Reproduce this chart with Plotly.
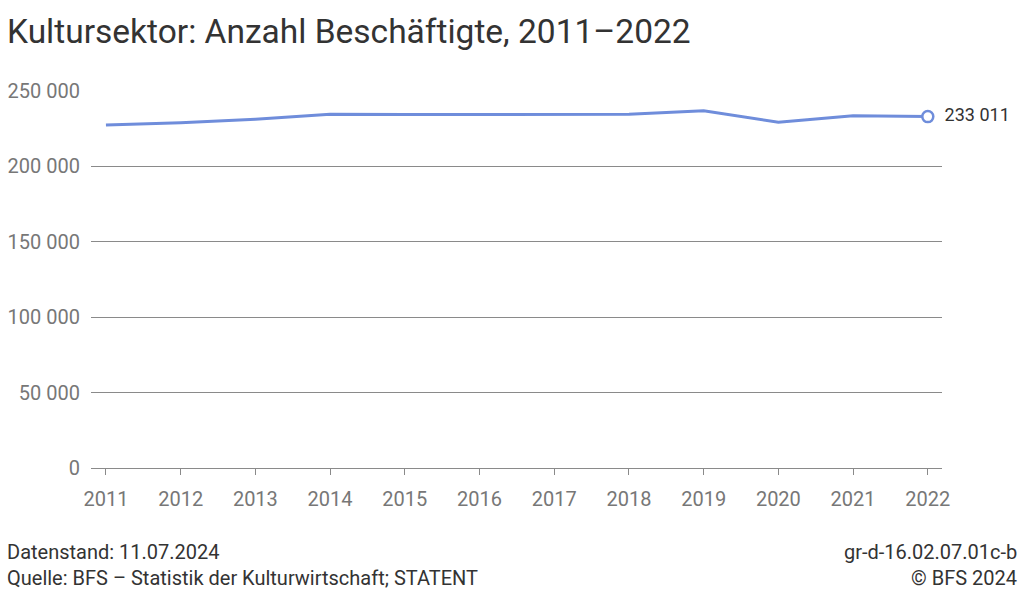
import plotly.graph_objects as go

years = [2011, 2012, 2013, 2014, 2015, 2016, 2017, 2018, 2019, 2020, 2021, 2022]
employees = [227400, 228900, 231300, 234600, 234400, 234500, 234800, 234500, 236900, 229300, 233600, 233011]
y_ticks = [0, 50000, 100000, 150000, 200000, 250000]

title = "Kultursektor: Anzahl Beschäftigte, 2011–2022"
footer_left = ["Datenstand: 11.07.2024", "Quelle: BFS – Statistik der Kulturwirtschaft; STATENT"]
footer_right = ["gr-d-16.02.07.01c-b", "© BFS 2024"]
end_label = "233 011"

line_color = "#6f8ddb"
font = "Roboto"

L, R, T, B = 91, 82, 90, 133
W, H = 1024, 601

fig = go.Figure()
fig.add_trace(go.Scatter(
    x=years, y=employees, mode="lines",
    line=dict(color=line_color, width=3),
    hoverinfo="skip", showlegend=False,
))
fig.add_trace(go.Scatter(
    x=[years[-1]], y=[employees[-1]], mode="markers+text",
    marker=dict(size=11, color="white", line=dict(color=line_color, width=2.5)),
    text=["  " + end_label], textposition="middle right",
    textfont=dict(family=font, size=18, color="#333333"),
    cliponaxis=False, hoverinfo="skip", showlegend=False,
))

fig.update_layout(
    width=W, height=601,
    margin=dict(l=L, r=R, t=T, b=B, autoexpand=False),
    paper_bgcolor="white", plot_bgcolor="white",
    separators=". ",
    font=dict(family=font, size=18, color="#777777"),
    xaxis=dict(
        range=[2010.8, 2022.19], tickmode="array", tickvals=years,
        ticktext=[str(y) for y in years], automargin=False,
        showgrid=False, zeroline=False,
        showline=True, linecolor="#8a8a8a", linewidth=1.3,
        ticks="outside", ticklen=6, tickcolor="#8a8a8a", tickwidth=1.3,
        ticklabelstandoff=7,
        tickfont=dict(size=20, color="#777777"),
    ),
    yaxis=dict(
        range=[0, 250660], tickmode="array", tickvals=y_ticks, automargin=False,
        tickformat=",d", showgrid=True, gridcolor="#8a8a8a", gridwidth=1.3,
        zeroline=False, showline=False, ticks="", ticklabelstandoff=10,
        tickfont=dict(size=20, color="#777777"),
    ),
)

pw, ph = W - L - R, H - T - B


def px(xp, yp):
    return (xp - L) / pw, (H - B - yp) / ph


tx, ty = px(5, 32)
fig.add_annotation(text=title, x=tx, y=ty, xref="paper", yref="paper",
                   xanchor="left", yanchor="middle", showarrow=False,
                   font=dict(family=font, size=33.5, color="#333333"))
for i, (l, r) in enumerate(zip(footer_left, footer_right)):
    ypx = 552 + i * 26
    ax, ay = px(5, ypx)
    fig.add_annotation(text=l, x=ax, y=ay, xref="paper", yref="paper",
                       xanchor="left", yanchor="middle", showarrow=False,
                       font=dict(family=font, size=20, color="#333333"))
    bx, by = px(1019, ypx)
    fig.add_annotation(text=r, x=bx, y=by, xref="paper", yref="paper",
                       xanchor="right", yanchor="middle", showarrow=False,
                       font=dict(family=font, size=20, color="#333333"))

fig.write_html("out.html")
